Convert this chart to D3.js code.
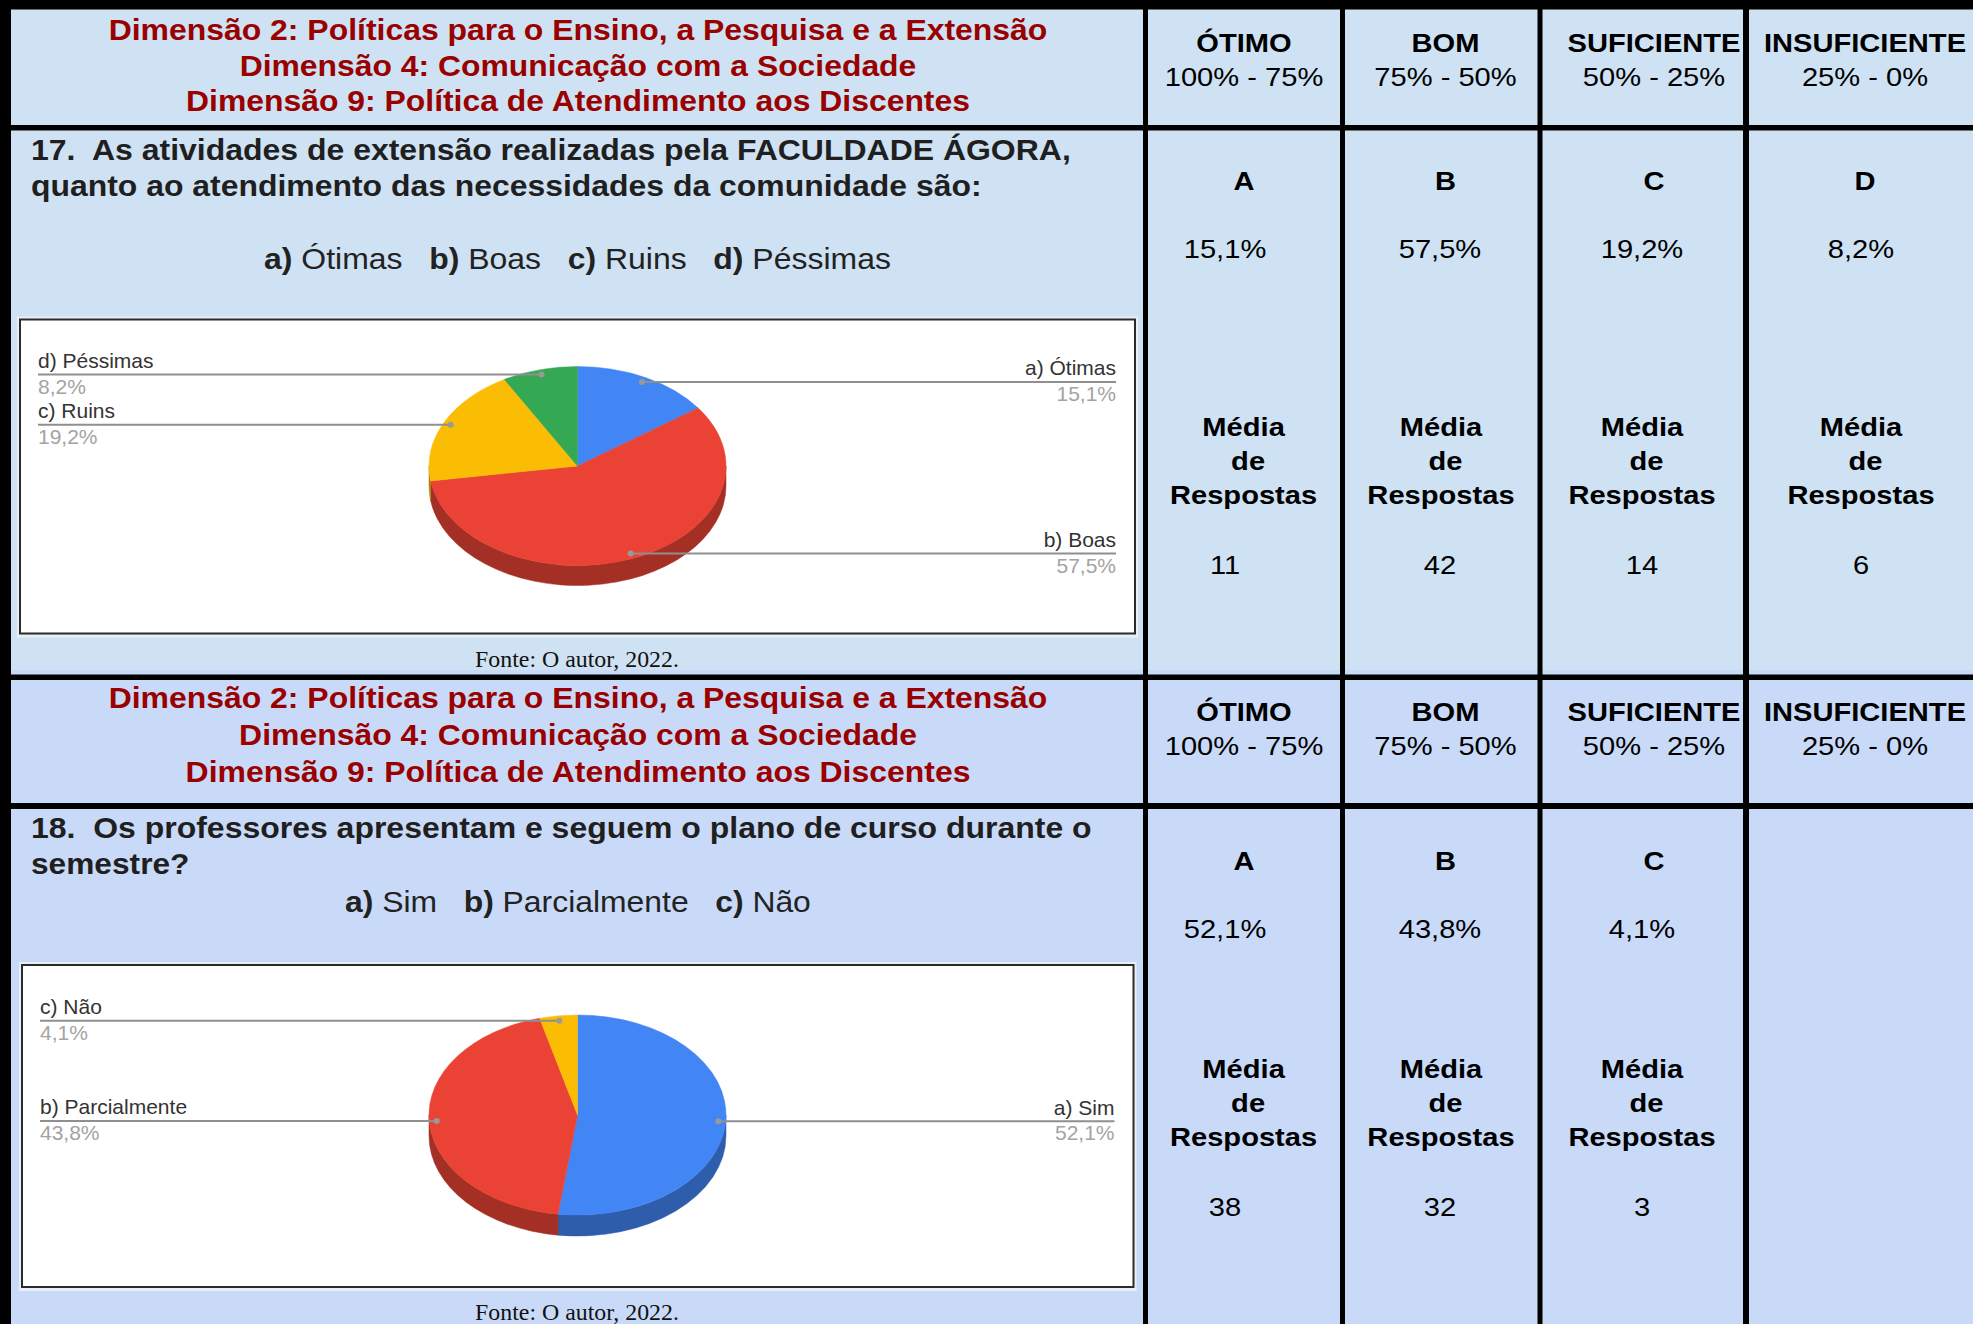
<!DOCTYPE html>
<html>
<head>
<meta charset="utf-8">
<script src="https://cdn.jsdelivr.net/npm/d3@7"></script>
<style>
  body { margin: 0; background: #fff; overflow: hidden; }
  svg { display: block; }
  text { white-space: pre; }
</style>
</head>
<body>
<svg id="chart"></svg>
<script>
// ---- data ----
const dimensionLines = [
  "Dimensão 2: Políticas para o Ensino, a Pesquisa e a Extensão",
  "Dimensão 4: Comunicação com a Sociedade",
  "Dimensão 9: Política de Atendimento aos Discentes",
];
const scaleNames = ["ÓTIMO", "BOM", "SUFICIENTE", "INSUFICIENTE"];
const scaleRanges = ["100% - 75%", "75% - 50%", "50% - 25%", "25% - 0%"];
const letters = ["A", "B", "C", "D"];

const q17Lines = [
  "17.  As atividades de extensão realizadas pela FACULDADE ÁGORA,",
  "quanto ao atendimento das necessidades da comunidade são:",
];
const q17Options = ["a) Ótimas", "b) Boas", "c) Ruins", "d) Péssimas"];
const q17Percent = [15.1, 57.5, 19.2, 8.2];
const q17Counts = [11, 42, 14, 6];

const q18Lines = [
  "18.  Os professores apresentam e seguem o plano de curso durante o",
  "semestre?",
];
const q18Options = ["a) Sim", "b) Parcialmente", "c) Não"];
const q18Percent = [52.1, 43.8, 4.1];
const q18Counts = [38, 32, 3];

const sliceColors = ["#4285f4", "#ea4335", "#fbbc04", "#34a853"];
const sourceNote = "Fonte: O autor, 2022.";

// ---- layout ----
const width = 1973;
const height = 1324;
const sans = "'Liberation Sans', Arial, sans-serif";
const serif = "'Liberation Serif', 'Times New Roman', serif";
const fmtPct = (v) => d3.format(".1f")(v).replace(".", ",") + "%";

// column centres of the right-hand table
const headCenter = d3.scaleOrdinal().domain([0, 1, 2, 3]).range([1244, 1445.5, 1654, 1865]);
const valueCenter = d3.scaleOrdinal().domain([0, 1, 2, 3]).range([1225, 1440, 1642, 1861]);
const mediaCenter = d3.scaleOrdinal().domain([0, 1, 2, 3]).range([1243.6, 1441, 1642, 1861]);

const sections = [
  {
    top: 10, bottom: 675, bg: "#cfe2f3",
    titleY: [40, 76, 111.5], titleW: [939, 677, 784],
    nameY: 52, rangeY: 86.5,
    lines: q17Lines, lineY: [160, 196], lineW: [1040, 951],
    options: q17Options, optY: 269, optX: 264, optW: 627,
    percent: q17Percent, counts: q17Counts,
    letterY: 190, pctY: 258, mediaY: [436, 470, 504], countY: 574,
    box: { x: 20, y: 319.5, w: 1115, h: 314 },
    pie: { cx: 577.5, cy: 466, rx: 148.5, ry: 99.5, depth: 20 },
    fonteY: 667,
  },
  {
    top: 680, bottom: 1324, bg: "#c9daf8",
    titleY: [708.3, 745, 782.5], titleW: [939, 678, 785],
    nameY: 721, rangeY: 755.5,
    lines: q18Lines, lineY: [838, 874], lineW: [1061, 158.5],
    options: q18Options, optY: 912, optX: 345, optW: 466,
    percent: q18Percent, counts: q18Counts,
    letterY: 870, pctY: 938, mediaY: [1078, 1112, 1146.5], countY: 1216.5,
    box: { x: 22, y: 965, w: 1111.5, h: 322 },
    pie: { cx: 577.5, cy: 1115, rx: 148.5, ry: 100, depth: 21 },
    fonteY: 1320,
  },
];

const svg = d3.select("#chart").attr("width", width).attr("height", height);

// text helper: stretches horizontally to a target width (or by factor k)
function addText(parent, x, y, str, o) {
  const t = parent.append("text")
    .attr("x", x).attr("y", y)
    .attr("font-family", o.family || sans)
    .attr("font-size", o.size)
    .attr("font-weight", o.weight || "normal")
    .attr("fill", o.fill || "#000")
    .attr("text-anchor", o.anchor || "start");
  if (o.parts) {
    o.parts.forEach((p) => t.append("tspan").attr("font-weight", p.bold ? "bold" : "normal").text(p.text));
  } else {
    t.text(str);
  }
  const k = o.width ? o.width / t.node().getComputedTextLength() : (o.k || 1);
  t.attr("transform", `translate(${x},0) scale(${k},1) translate(${-x},0)`);
  return t;
}

// backgrounds
sections.forEach((s) => {
  svg.append("rect").attr("x", 0).attr("y", s.top - 10).attr("width", width)
    .attr("height", s.bottom - s.top + 10).attr("fill", s.bg);
});

const TK = 1.12; // table text stretch

sections.forEach((s) => {
  const g = svg.append("g");

  // header title
  dimensionLines.forEach((line, i) => {
    addText(g, 578, s.titleY[i], line, { size: 29.5, weight: "bold", fill: "#990000", anchor: "middle", width: s.titleW[i] });
  });
  // scale headers
  scaleNames.forEach((n, i) => {
    addText(g, headCenter(i), s.nameY, n, { size: 26, weight: "bold", anchor: "middle", k: TK });
    addText(g, headCenter(i), s.rangeY, scaleRanges[i], { size: 26, anchor: "middle", k: TK });
  });

  // question
  s.lines.forEach((line, i) => {
    addText(g, 31, s.lineY[i], line, { size: 29, weight: "bold", fill: "#1f1f1f", width: s.lineW[i] });
  });
  const parts = [];
  s.options.forEach((opt, i) => {
    const [tag, ...rest] = opt.split(" ");
    parts.push({ text: (i ? "   " : "") + tag, bold: true });
    parts.push({ text: " " + rest.join(" "), bold: false });
  });
  addText(g, s.optX, s.optY, null, { size: 29.5, fill: "#222", parts, width: s.optW });

  // right-hand values
  s.percent.forEach((v, i) => {
    addText(g, headCenter(i), s.letterY, letters[i], { size: 26, weight: "bold", anchor: "middle", k: TK });
    addText(g, valueCenter(i), s.pctY, fmtPct(v), { size: 26, anchor: "middle", k: TK });
    addText(g, mediaCenter(i), s.mediaY[0], "Média", { size: 26, weight: "bold", anchor: "middle", k: TK });
    addText(g, mediaCenter(i) + 4.5, s.mediaY[1], "de", { size: 26, weight: "bold", anchor: "middle", k: TK });
    addText(g, mediaCenter(i), s.mediaY[2], "Respostas", { size: 26, weight: "bold", anchor: "middle", k: TK });
    addText(g, valueCenter(i), s.countY, String(s.counts[i]), { size: 26, anchor: "middle", k: TK });
  });

  // chart box
  const b = s.box;
  g.append("rect").attr("x", b.x - 3).attr("y", b.y - 3).attr("width", b.w + 6).attr("height", b.h + 7)
    .attr("fill", "#e9eef4");
  g.append("rect").attr("x", b.x).attr("y", b.y).attr("width", b.w).attr("height", b.h)
    .attr("fill", "#fff").attr("stroke", "#2b2b2b").attr("stroke-width", 2);

  drawPie(g, s);

  addText(g, 577, s.fonteY, sourceNote, { size: 22.5, family: serif, anchor: "middle", fill: "#111", width: 204 });
});

function drawPie(g, s) {
  const p = s.pie;
  const arcs = d3.pie().sort(null).value((d) => d)(s.percent);
  const sy = p.ry / p.rx;
  const pg = g.append("g").attr("transform", `translate(${p.cx},${p.cy}) scale(1,${sy})`);
  const depthU = p.depth / sy;
  const h = Math.PI / 2;

  // visible sides (front half)
  arcs.forEach((a, i) => {
    const a0 = Math.max(a.startAngle, h);
    const a1 = Math.min(a.endAngle, 3 * h);
    if (a1 <= a0) return;
    const path = d3.path();
    path.arc(0, 0, p.rx, a0 - h, a1 - h);
    path.arc(0, depthU, p.rx, a1 - h, a0 - h, true);
    path.closePath();
    const c = d3.color(sliceColors[i]).darker(1);
    pg.append("path").attr("d", path.toString()).attr("fill", c).attr("stroke", c).attr("stroke-width", 0.6);
  });

  // top face
  const arc = d3.arc().innerRadius(0).outerRadius(p.rx);
  pg.selectAll("path.top").data(arcs).join("path")
    .attr("class", "top")
    .attr("d", arc)
    .attr("fill", (d, i) => sliceColors[i])
    .attr("stroke", (d, i) => sliceColors[i])
    .attr("stroke-width", 0.6);

  // leader lines and labels
  const b = s.box;
  arcs.forEach((a, i) => {
    const mid = (a.startAngle + a.endAngle) / 2;
    const dx = p.cx + 0.95 * p.rx * Math.sin(mid);
    const dy = p.cy - 0.95 * p.ry * Math.cos(mid);
    const right = Math.sin(mid) > 0;
    const lx = right ? b.x + b.w - 19 : b.x + 18;
    g.append("line").attr("x1", dx).attr("y1", dy).attr("x2", lx).attr("y2", dy)
      .attr("stroke", "#8f8f8f").attr("stroke-width", 2);
    g.append("circle").attr("cx", dx).attr("cy", dy).attr("r", 3).attr("fill", "#999");
    const anchor = right ? "end" : "start";
    addText(g, lx, dy - 6.5, s.options[i], { size: 21, fill: "#333", anchor });
    addText(g, lx, dy + 19, fmtPct(s.percent[i]), { size: 21, fill: "#a3a3a3", anchor });
  });
}

// black grid lines
const black = svg.append("g").attr("fill", "#000");
black.append("rect").attr("x", 0).attr("y", 0).attr("width", width).attr("height", 9.5);
black.append("rect").attr("x", 0).attr("y", 0).attr("width", 11).attr("height", height);
[[125, 5.5], [674.5, 5.5], [803, 6]].forEach(([y, t]) => {
  black.append("rect").attr("x", 0).attr("y", y).attr("width", width).attr("height", t);
});
[[1143, 5], [1340, 5], [1537.5, 5], [1743, 6]].forEach(([x, t]) => {
  black.append("rect").attr("x", x).attr("y", 0).attr("width", t).attr("height", height);
});
</script>
</body>
</html>
